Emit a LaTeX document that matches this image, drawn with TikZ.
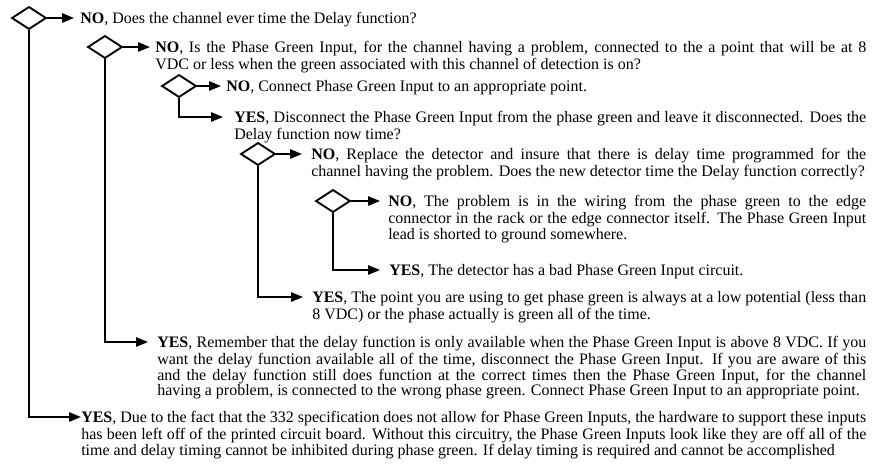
\documentclass[tikz,border=0pt]{standalone}
\usepackage{fontspec}
\setmainfont{Liberation Serif}
\usetikzlibrary{shapes.geometric,arrows.meta}
\hyphenpenalty=10000
\tolerance=9999
\tikzset{
    choice/.style={diamond, draw, line width=1.4pt, inner sep=0pt, minimum width=26pt, minimum height=17pt},
    arr/.style={-{Triangle[length=9pt,width=7pt]}, line width=1.4pt},
    para/.style={anchor=north west, inner sep=0pt, text width=#1, align=justify, font=\fontsize{12}{11.6}\selectfont}
}
\begin{document}
\begin{tikzpicture}[x=0.75pt,y=-0.75pt]
            \useasboundingbox (0,0) rectangle (875,468);
            \node[choice] (d1) at (29,18) {};
            \node[choice] (d2) at (105,47) {};
            \node[choice] (d3) at (179,86) {};
            \node[choice] (d4) at (258,154) {};
            \node[choice] (d5) at (333,201) {};
            \coordinate (t1) at (74,18);
            \coordinate (t2) at (150,47);
            \coordinate (t3) at (221,86);
            \coordinate (t4) at (223,117);
            \coordinate (t5) at (302,154);
            \coordinate (t6) at (380,201);
            \coordinate (t7) at (380,270);
            \coordinate (t8) at (303,297);
            \coordinate (t9) at (148,342);
            \coordinate (t10) at (81,417);
            \node[para=589.5pt] (p1) at ([shift={(6,-6)}]t1) {\strut\textbf{NO}, Does the channel ever time the Delay function?};
            \node[para=533.25pt] (p2) at ([shift={(5,-6)}]t2) {\strut\textbf{NO}, Is the Phase Green Input, for the channel having a problem, connected to the a point that will be at 8\linebreak VDC or less when the green associated with this channel of detection is on?};
            \node[para=480pt] (p3) at ([shift={(5,-6)}]t3) {\strut\textbf{NO}, Connect Phase Green Input to an appropriate point.};
            \node[para=474pt] (p4) at ([shift={(11,-6)}]t4) {\strut\textbf{YES}, Disconnect the Phase Green Input from the phase green and leave it disconnected. Does the\linebreak Delay function now time?};
            \node[para=416.25pt] (p5) at ([shift={(9,-6)}]t5) {\strut\textbf{NO}, Replace the detector and insure that there is delay time programmed for the\linebreak channel having the problem. Does the new detector time the Delay function correctly?};
            \node[para=358.5pt] (p6) at ([shift={(8,-6)}]t6) {\strut\textbf{NO}, The problem is in the wiring from the phase green to the edge\linebreak connector in the rack or the edge connector itself. The Phase Green Input\linebreak lead is shorted to ground somewhere.};
            \node[para=357.75pt] (p7) at ([shift={(9,-6)}]t7) {\strut\textbf{YES}, The detector has a bad Phase Green Input circuit.};
            \node[para=415.5pt] (p8) at ([shift={(9,-6)}]t8) {\strut\textbf{YES}, The point you are using to get phase green is always at a low potential (less than\linebreak 8 VDC) or the phase actually is green all of the time.};
            \node[para=531.75pt] (p9) at ([shift={(9,-6)}]t9) {\strut\textbf{YES}, Remember that the delay function is only available when the Phase Green Input is above 8 VDC. If you\linebreak want the delay function available all of the time, disconnect the Phase Green Input. If you are aware of this\linebreak and the delay function still does function at the correct times then the Phase Green Input, for the channel\linebreak having a problem, is connected to the wrong phase green. Connect Phase Green Input to an appropriate point.};
            \node[para=588.75pt] (p10) at ([shift={(0,-6)}]t10) {\parfillskip=0pt\strut\textbf{YES}, Due to the fact that the 332 specification does not allow for Phase Green Inputs, the hardware to support these inputs\linebreak has been left off of the printed circuit board. Without this circuitry, the Phase Green Inputs look like they are off all of the\linebreak time and delay timing cannot be inhibited during phase green. If delay timing is required and cannot be accomplished};
            \draw[arr] (d1.east) -- (t1);
            \draw[arr] (d1.south) |- (t10);
            \draw[arr] (d2.east) -- (t2);
            \draw[arr] (d2.south) |- (t9);
            \draw[arr] (d3.east) -- (t3);
            \draw[arr] (d3.south) |- (t4);
            \draw[arr] (d4.east) -- (t5);
            \draw[arr] (d4.south) |- (t8);
            \draw[arr] (d5.east) -- (t6);
            \draw[arr] (d5.south) |- (t7);
        \end{tikzpicture}
\end{document}
